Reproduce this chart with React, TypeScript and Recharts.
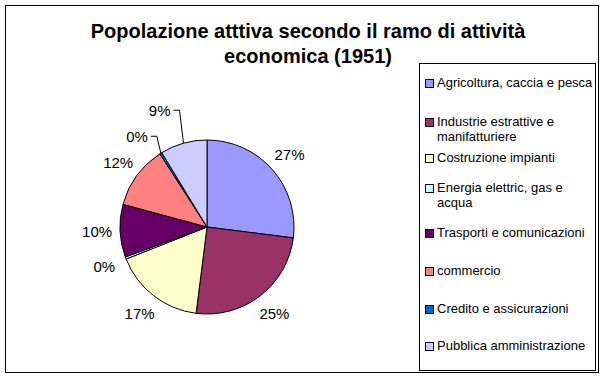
import React from 'react';
import { Legend, Pie, PieChart } from 'recharts';

const categories = [
  'Agricoltura, caccia e pesca',
  'Industrie estrattive e manifatturiere',
  'Costruzione impianti',
  'Energia elettric, gas e acqua',
  'Trasporti e comunicazioni',
  'commercio',
  'Credito e assicurazioni',
  'Pubblica amministrazione',
];
const shares = [27.0, 25.0, 17.0, 0.4, 9.8, 11.7, 0.4, 8.7];
const colors = ['#9999FF', '#993366', '#FFFFCC', '#CCFFFF', '#660066', '#FF8080', '#0066CC', '#CCCCFF'];

const data = categories.map((name, i) => ({ name, value: shares[i], fill: colors[i] }));

const FONT = '"Liberation Sans", Arial, sans-serif';
const RAD = Math.PI / 180;

// labels lifted above the pie with a leader line (index -> lift in px)
const leaders: Record<number, number> = { 6: 17, 7: 33 };
// legend row tops inside the legend box
const rowTops = [11, 50, 86, 116, 161, 199, 237, 274];

const renderLabel = (props: any) => {
  const { cx, cy, midAngle, outerRadius, percent, index } = props;
  const text = `${Math.round(percent * 100)}%`;
  const cos = Math.cos(-midAngle * RAD);
  const sin = Math.sin(-midAngle * RAD);
  const lift = leaders[index];
  if (lift) {
    const ex = cx + outerRadius * cos;
    const ey = cy + outerRadius * sin;
    return (
      <g>
        <polyline
          points={`${ex},${ey} ${ex - 4},${ey - lift} ${ex - 10},${ey - lift}`}
          fill="none"
          stroke="#000"
          strokeWidth={1}
        />
        <text x={ex - 13} y={ey - lift} textAnchor="end" dominantBaseline="central" fontSize={15} fontFamily={FONT} fill="#000">
          {text}
        </text>
      </g>
    );
  }
  const r = outerRadius + 23;
  return (
    <text x={cx + r * cos} y={cy + r * sin} textAnchor="middle" dominantBaseline="central" fontSize={15} fontFamily={FONT} fill="#000">
      {text}
    </text>
  );
};

const renderLegend = (props: any) => {
  const items = [...(props.payload || [])].sort(
    (a: any, b: any) => categories.indexOf(a.value) - categories.indexOf(b.value)
  );
  return (
    <div
      style={{
        position: 'relative',
        width: 177,
        height: 308,
        border: '1px solid #000',
        boxSizing: 'border-box',
        fontFamily: FONT,
        fontSize: 13,
        color: '#000',
        background: '#fff',
      }}
    >
      {items.map((entry: any, i: number) => (
        <div key={i} style={{ position: 'absolute', left: 5, top: rowTops[i], display: 'flex', alignItems: 'flex-start' }}>
          <span
            style={{
              display: 'inline-block',
              width: 7,
              height: 7,
              marginTop: 4,
              marginRight: 3,
              border: '1px solid #000',
              background: entry.color,
              flex: 'none',
            }}
          />
          <span style={{ width: 160, lineHeight: '15px', whiteSpace: 'normal' }}>{entry.value}</span>
        </div>
      ))}
    </div>
  );
};

export default function App() {
  return (
    <div style={{ position: 'absolute', left: 0, top: 0, width: 605, height: 378, background: '#fff' }}>
      <div
        style={{
          position: 'absolute',
          left: 0,
          top: 19,
          width: 616,
          textAlign: 'center',
          fontFamily: FONT,
          fontWeight: 'bold',
          fontSize: 20,
          lineHeight: '25px',
          color: '#000',
        }}
      >
        Popolazione atttiva secondo il ramo di attività
        <br />
        economica (1951)
      </div>
      <PieChart width={605} height={378} margin={{ top: 0, right: 0, bottom: 0, left: 0 }}>
        <Pie
          data={data}
          dataKey="value"
          nameKey="name"
          cx={207}
          cy={227}
          outerRadius={87}
          startAngle={90}
          endAngle={-270}
          stroke="#000"
          strokeWidth={1}
          label={renderLabel}
          labelLine={false}
          isAnimationActive={false}
        />
        <Legend
          layout="vertical"
          align="right"
          verticalAlign="top"
          content={renderLegend}
          wrapperStyle={{ position: 'absolute', left: 419, top: 63, width: 177, height: 308 }}
        />
      </PieChart>
      <div
        style={{
          position: 'absolute',
          left: 5,
          top: 5,
          width: 594,
          height: 368,
          border: '1px solid #000',
          boxSizing: 'border-box',
          pointerEvents: 'none',
        }}
      />
    </div>
  );
}
